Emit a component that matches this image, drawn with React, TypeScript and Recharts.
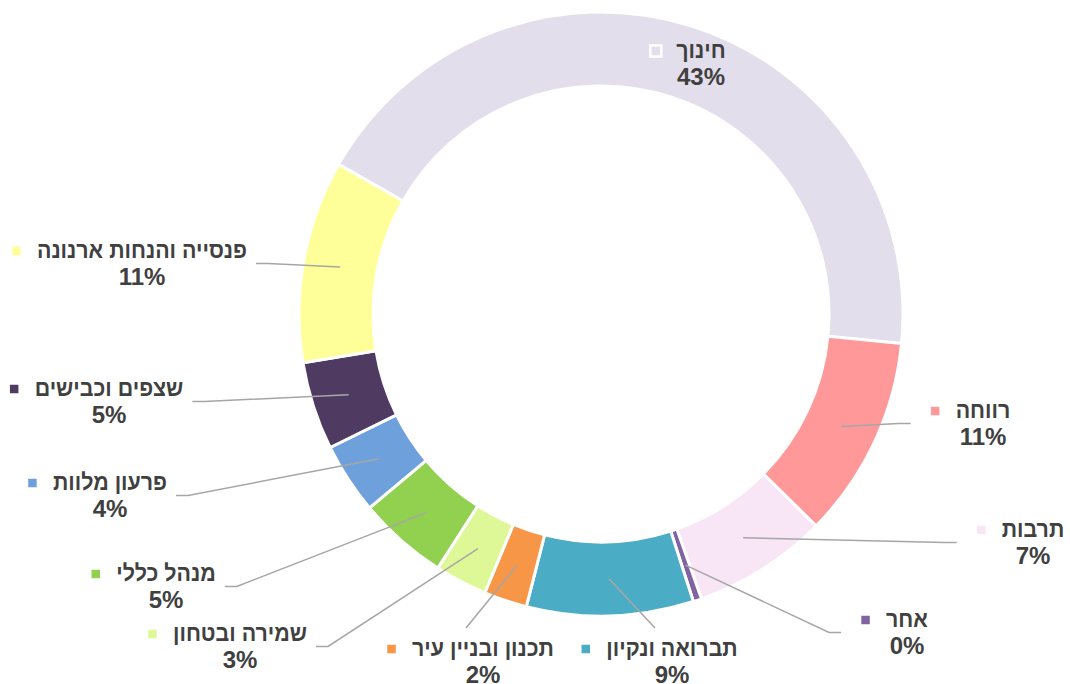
import { PieChart, Pie, Cell } from 'recharts';

// budget share per department (percent)
const categories = [
  'חינוך',
  'רווחה',
  'תרבות',
  'אחר',
  'תברואה ונקיון',
  'תכנון ובניין עיר',
  'שמירה ובטחון',
  'מנהל כללי',
  'פרעון מלוות',
  'שצפים וכבישים',
  'פנסייה והנחות ארנונה',
];
const shares = [43.2, 10.8, 7.2, 0.45, 8.9, 2.3, 2.8, 4.8, 3.8, 4.7, 10.8];
const colors = [
  '#E3DEEB',
  '#FF9999',
  '#F8E5F5',
  '#8064A2',
  '#4BACC6',
  '#F79646',
  '#DFF897',
  '#92D050',
  '#6EA1DC',
  '#4F3B62',
  '#FFFF99',
];

// label placement: offset of the name's centre from the pie centre, and which side the leader line attaches
type Side = 'none' | 'left' | 'right' | 'top';
const labelLayout: { dx: number; dy: number; side: Side }[] = [
  { dx: 100, dy: -264, side: 'none' },
  { dx: 382, dy: 96, side: 'left' },
  { dx: 432, dy: 215, side: 'left' },
  { dx: 306, dy: 305, side: 'left' },
  { dx: 71, dy: 334, side: 'top' },
  { dx: -118, dy: 334, side: 'top' },
  { dx: -361, dy: 319, side: 'right' },
  { dx: -435, dy: 259, side: 'right' },
  { dx: -491, dy: 168, side: 'right' },
  { dx: -492, dy: 74, side: 'right' },
  { dx: -459, dy: -64, side: 'right' },
];

const data = categories.map((name, i) => ({ name, value: shares[i] }));

const FONT = '"Liberation Sans", Arial, sans-serif';
const NAME_FS = 23;
const NAME_SQUEEZE = 0.93; // Arial's Hebrew is a bit narrower than Liberation's
const PCT_FS = 24;
const LINE_H = 27;
const MARK = 11;
const RADIAN = Math.PI / 180;

let ctx: CanvasRenderingContext2D | null = null;
function textWidth(s: string) {
  if (!ctx) ctx = document.createElement('canvas').getContext('2d');
  if (!ctx) return s.length * NAME_FS * 0.55;
  ctx.font = `bold ${NAME_FS}px ${FONT}`;
  return ctx.measureText(s).width;
}

function renderLabel(props: any) {
  const { cx, cy, midAngle, innerRadius, outerRadius, index, percent } = props;
  const lay = labelLayout[index];
  const x = cx + lay.dx;
  const y = cy + lay.dy;
  const name = categories[index];
  const pct = `${Math.round(percent * 100)}%`;
  const w = textWidth(name) * NAME_SQUEEZE;
  const left = x - w / 2;
  const right = x + w / 2;
  const mx = left - 15 - MARK;

  const r = (innerRadius + outerRadius) / 2;
  const sx = cx + r * Math.cos(-midAngle * RADIAN);
  const sy = cy + r * Math.sin(-midAngle * RADIAN);
  const by = y + LINE_H / 2;
  let pts: number[][] = [];
  if (lay.side === 'left') {
    const ex = mx - 19;
    pts = [[sx, sy], [ex - 12, by], [ex, by]];
  } else if (lay.side === 'right') {
    const ex = right + 9;
    pts = [[sx, sy], [ex + 12, by], [ex, by]];
  } else if (lay.side === 'top') {
    pts = [[sx, sy], [(mx + right) / 2 - 4, y - 20]];
  }

  return (
    <g key={`lbl-${index}`}>
      {pts.length > 0 && (
        <polyline
          points={pts.map((p) => p.join(',')).join(' ')}
          fill="none"
          stroke="#A6A6A6"
          strokeWidth={1.5}
        />
      )}
      <rect
        x={mx}
        y={y - MARK / 2 + 1}
        width={MARK}
        height={MARK}
        fill={colors[index]}
        stroke="#fff"
        strokeWidth={2.5}
      />
      <text
        x={x}
        y={y + 7.5}
        textAnchor="middle"
        textLength={w}
        lengthAdjust="spacingAndGlyphs"
        fill="#404040"
        fontFamily={FONT}
        fontWeight="bold"
        fontSize={NAME_FS}
      >
        {name}
      </text>
      <text
        x={x}
        y={y + LINE_H + 8}
        textAnchor="middle"
        fill="#404040"
        fontFamily={FONT}
        fontWeight="bold"
        fontSize={PCT_FS}
      >
        {pct}
      </text>
    </g>
  );
}

export default function App() {
  return (
    <div style={{ position: 'absolute', left: 0, top: 0, width: 1070, height: 684, background: '#fff' }}>
      <PieChart width={1070} height={684} margin={{ top: 0, right: 0, bottom: 0, left: 0 }}>
        <Pie
          data={data}
          dataKey="value"
          nameKey="name"
          cx={601}
          cy={314}
          innerRadius={228}
          outerRadius={302}
          startAngle={150.3}
          endAngle={-209.7}
          stroke="#fff"
          strokeWidth={3}
          label={renderLabel}
          labelLine={false}
          isAnimationActive={false}
        >
          {data.map((d, i) => (
            <Cell key={d.name} fill={colors[i]} />
          ))}
        </Pie>
      </PieChart>
    </div>
  );
}
